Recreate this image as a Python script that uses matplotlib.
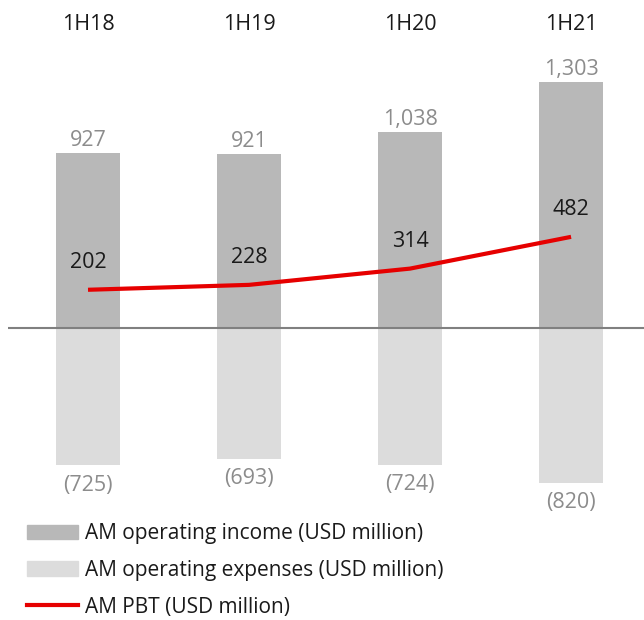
import matplotlib
matplotlib.use('Agg')
import matplotlib.pyplot as plt
from matplotlib.patches import Patch
from matplotlib.lines import Line2D

periods = ['1H18', '1H19', '1H20', '1H21']
income = [927, 921, 1038, 1303]
expenses = [-725, -693, -724, -820]
pbt = [202, 228, 314, 482]

plt.rcParams['font.family'] = ['Open Sans', 'DejaVu Sans']

fig = plt.figure(figsize=(6.44, 6.20), dpi=100)
ax = fig.add_axes([0.0124, 0.0, 0.9876, 1.0])
ax.set_xlim(-0.497, 3.453)
ax.set_ylim(-1545, 1735)
ax.axis('off')

x = range(len(periods))
ax.bar(x, income, width=0.4, color='#b8b8b8')
ax.bar(x, expenses, width=0.4, color='#dcdcdc')
ax.axhline(0, color='#808080', lw=1.5)
ax.plot(x, pbt, color='#e60000', lw=3, solid_capstyle='butt')

fs = 15.5
for i, p in enumerate(periods):
    ax.annotate(p, (i, 1.0), xycoords=('data', 'axes fraction'), xytext=(0, -25),
                textcoords='offset pixels', ha='center', va='center', fontsize=fs, color='#1a1a1a')
    ax.annotate(f'{income[i]:,}', (i, income[i]), xytext=(0, 12), textcoords='offset pixels',
                ha='center', va='center', fontsize=fs, color='#8c8c8c')
    ax.annotate(f'({-expenses[i]:,})', (i, expenses[i]), xytext=(0, -20), textcoords='offset pixels',
                ha='center', va='center', fontsize=fs, color='#8c8c8c')
    ax.annotate(f'{pbt[i]:,}', (i, pbt[i]), xytext=(0, 27), textcoords='offset pixels',
                ha='center', va='center', fontsize=fs, color='#1a1a1a')

handles = [Patch(color='#b8b8b8'), Patch(color='#dcdcdc'), Line2D([], [], color='#e60000', lw=3)]
labels = ['AM operating income (USD million)', 'AM operating expenses (USD million)', 'AM PBT (USD million)']
fig.legend(handles, labels, loc='upper left', bbox_to_anchor=(0.042, 0.156), frameon=False,
           fontsize=15, handlelength=2.45, handletextpad=0.34, labelspacing=0.75,
           borderaxespad=0, borderpad=0, labelcolor='#1a1a1a')

fig.savefig('out.png', dpi=100)
